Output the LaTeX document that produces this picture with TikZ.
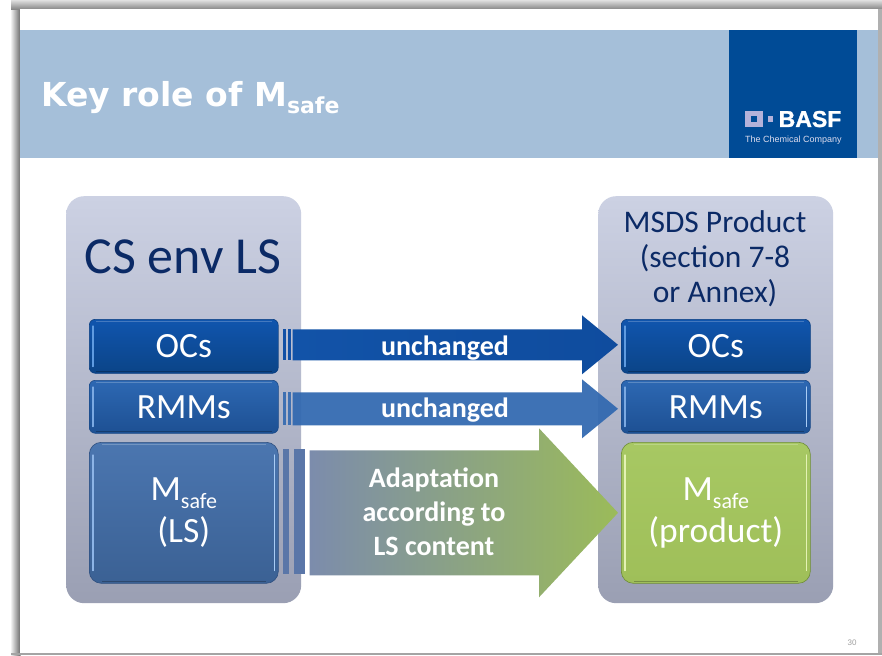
\documentclass[tikz,border=0pt]{standalone}
\usepackage{fontspec}
\usetikzlibrary{calc}
\newfontfamily\crl{Carlito}
\newfontfamily\djv{DejaVu Sans}
\newfontfamily\lib[BoldFeatures={FakeBold=1.2}]{Liberation Sans}
\definecolor{hdr}{HTML}{A5BFD9}
\definecolor{basf}{HTML}{004B96}
\definecolor{lila}{HTML}{B4B2DA}
\definecolor{navy}{HTML}{0B2A66}
\definecolor{shdark}{HTML}{686868}
\definecolor{shtopa}{HTML}{E0E0E0}
\definecolor{shtopb}{HTML}{7E7E7E}
\definecolor{shright}{HTML}{B0B0B0}
\definecolor{shbot}{HTML}{A4A4A4}
\definecolor{pantop}{HTML}{CCD1E3}
\definecolor{panbot}{HTML}{9A9FB3}
\definecolor{ocst}{HTML}{1055AE}
\definecolor{ocsb}{HTML}{0B4487}
\definecolor{ocsd}{HTML}{0A3E80}
\definecolor{rmmt}{HTML}{2D68B3}
\definecolor{rmmb}{HTML}{1D5093}
\definecolor{rmmd}{HTML}{1B4A88}
\definecolor{msft}{HTML}{4B76B0}
\definecolor{msfb}{HTML}{3B6194}
\definecolor{msfd}{HTML}{2F5080}
\definecolor{grnt}{HTML}{A7C863}
\definecolor{grnb}{HTML}{9FBF59}
\definecolor{grnd}{HTML}{6E8C38}
\definecolor{hlo}{HTML}{5F9BE0}
\definecolor{hlr}{HTML}{7BA9E2}
\definecolor{hlm}{HTML}{8DB4E6}
\definecolor{hlg}{HTML}{E4F2B4}
\definecolor{hlmr}{HTML}{A9CCF5}
\definecolor{aoa}{HTML}{1253A8}
\definecolor{aob}{HTML}{0F4C9E}
\definecolor{aobar}{HTML}{1250A6}
\definecolor{arbar}{HTML}{3E70B2}
\definecolor{arf}{HTML}{3068B0}
\definecolor{agbar}{HTML}{5A76A8}
\definecolor{aga}{HTML}{7C8CAC}
\definecolor{agb}{HTML}{93B06C}
\definecolor{agc}{HTML}{9BBB59}
\definecolor{pgc}{HTML}{A0A0A0}
\newcommand{\fs}[1]{\fontsize{#1}{#1}\selectfont}
\newcommand{\msafe}{M\smash{\raisebox{-8pt}{\fs{22}safe}}}
% from, to, y offset, half body, half head, head length, tail offset, style
\newcommand{\blockarrow}[8]{%
  \coordinate (tl) at ($(#1.east)+(#7,#3-#4)$);
  \coordinate (bl) at ($(#1.east)+(#7,#3+#4)$);
  \coordinate (tip) at ($(#2.west)+(-3,#3)$);
  \coordinate (ht) at ($(tip)+(-#6,-#5)$);
  \coordinate (hb) at ($(tip)+(-#6,#5)$);
  \path[#8] (tl) -- (tl -| ht) -- (ht) -- (tip) -- (hb) -- (bl -| hb) -- (bl) -- cycle;}
% left bar offset, width, node, y offset, half height, colour
\newcommand{\tailbar}[6]{%
  \fill[#6] ($(#3.east)+(#1,#4-#5)$) rectangle ($(#3.east)+(#1+#2,#4+#5)$);}
\newcommand{\gel}[3]{%
  \draw[#2,line width=1.2pt,line cap=round] ($(#1.north west)+(4,#3)$) -- ($(#1.south west)+(4,-#3)$);
  \draw[white,opacity=.22,line width=1pt] ($(#1.north west)+(#3,2)$) -- ($(#1.north east)+(-#3,2)$);
  \draw[black,opacity=.25,line width=1.4pt] ($(#1.south west)+(#3,-2)$) -- ($(#1.south east)+(-#3,-2)$);}
\tikzset{
  panel/.style={anchor=north west,inner sep=0pt,minimum width=235pt,minimum height=407pt,
    rounded corners=18pt,top color=pantop,bottom color=panbot},
  gbox/.style={anchor=north west,inner sep=0pt,minimum width=189pt,rounded corners=6pt,
    align=center,text=white,font=\crl\fs{35.5}},
  lab/.style={anchor=base,inner sep=0pt,text=navy,font=\crl\fs{31.5}},
  arlab/.style={anchor=base,inner sep=0pt,text=white,font=\crl\bfseries\fs{28}}
}
\begin{document}
\begin{tikzpicture}[x=1pt,y=-1pt]
\useasboundingbox (0,0) rectangle (882,655);
\fill[white] (0,0) rectangle (882,655);
% slide shadow
\shade[left color=white,right color=shdark] (10,0) rectangle (20.5,655);
\shade[top color=shtopa,bottom color=shtopb] (11,0) rectangle (882,10) ;
\fill[shright] (877.5,9) rectangle (882,655);
\fill[shbot] (11,652.7) rectangle (882,655);
\fill[white] (20,9.5) rectangle (878,652.7);
% header
\fill[hdr] (20,30) rectangle (878,158);
\node[anchor=base west,inner sep=0pt,text=white,font=\djv\bfseries\fs{33}] (title) at (41,107)
  {Key role of M\raisebox{-6.5pt}{\fs{22}safe}};
\fill[basf] (729,30) rectangle (857,158);
\fill[lila] (745,111) rectangle (763,127);
\fill[basf] (751,116) rectangle (757,122);
\fill[lila] (768,116) rectangle (773,122);
\node[anchor=base west,inner sep=0pt,text=white,font=\lib\bfseries\fs{23}] (basfname) at (778.5,127) {BASF};
\node[anchor=base west,inner sep=0pt,text=lila!45!white,font=\lib\fs{9}] (basfsub) at (745,142.5) {The Chemical Company};
% panels
\node[panel] (pL) at (66,196) {};
\node[panel] (pR) at (598,196) {};
\node[lab,font=\crl\fs{52}] (csenv) at (183,273) {CS env LS};
\node[lab] (msds1) at (715,232) {MSDS Product};
\node[lab] (msds2) at (715,267) {(section 7-8};
\node[lab] (msds3) at (715,302) {or Annex)};
% boxes
\tikzset{
  ocs/.style={gbox,minimum height=54pt,top color=ocst,bottom color=ocsb,draw=ocsd,line width=.6pt},
  rmm/.style={gbox,minimum height=53pt,top color=rmmt,bottom color=rmmb,draw=rmmd,line width=.6pt},
  msf/.style={gbox,rounded corners=12pt,minimum height=141pt,top color=msft,bottom color=msfb,draw=msfd,line width=.6pt},
  grn/.style={gbox,rounded corners=12pt,minimum height=141pt,top color=grnt,bottom color=grnb,draw=grnd,line width=.6pt}
}
\node[ocs] (ocsL) at (89,319) {OCs};
\node[rmm] (rmmL) at (89,380) {RMMs};
\node[msf] (msL) at (89,442) {\msafe\\[6pt](LS)};
\node[ocs] (ocsR) at (621,319) {OCs};
\node[rmm] (rmmR) at (621,380) {RMMs};
\node[grn] (msR) at (621,442) {\msafe\\[6pt](product)};
\gel{ocsL}{hlo}{7}\gel{rmmL}{hlr}{7}\gel{msL}{hlm}{13}
\gel{ocsR}{hlo}{7}\gel{rmmR}{hlr}{7}\gel{msR}{hlg}{13}
\draw[hlmr,line width=1.2pt,line cap=round] ($(msL.north east)+(-4,13)$) -- ($(msL.south east)+(-4,-13)$);
\draw[hlmr,line width=1.2pt,line cap=round] ($(rmmR.north east)+(-4,7)$) -- ($(rmmR.south east)+(-4,-7)$);
\draw[hlg,line width=1.2pt,line cap=round] ($(msR.north east)+(-4,13)$) -- ($(msR.south east)+(-4,-13)$);
% arrows
\tailbar{4}{3.5}{ocsL}{-1.5}{15.5}{aobar}
\tailbar{9}{3.5}{ocsL}{-1.5}{15.5}{aobar}
\blockarrow{ocsL}{ocsR}{-1.5}{15.5}{29.5}{36}{14}{left color=aoa,right color=aob}
\tailbar{4}{3.5}{rmmL}{2}{16.5}{arbar}
\tailbar{9}{3.5}{rmmL}{2}{16.5}{arbar}
\blockarrow{rmmL}{rmmR}{2}{16.5}{29.5}{36}{14}{fill=arf,fill opacity=.93}
\tailbar{4}{6}{msL}{-1}{62.5}{agbar}
\tailbar{15}{11}{msL}{-1}{62.5}{agbar}
\blockarrow{msL}{msR}{0}{62.5}{84.5}{79}{31}{left color=aga,middle color=agb,right color=agc}
% arrow labels
\node[arlab] (u1) at (445,355) {unchanged};
\node[arlab] (u2) at (445,417) {unchanged};
\node[arlab] (a1) at (434,487) {Adaptation};
\node[arlab] (a2) at (434,521) {according to};
\node[arlab] (a3) at (434,555) {LS content};
\node[anchor=base,inner sep=0pt,text=pgc,font=\lib\fs{8}] (pg) at (852,645) {30};
\end{tikzpicture}
\end{document}
